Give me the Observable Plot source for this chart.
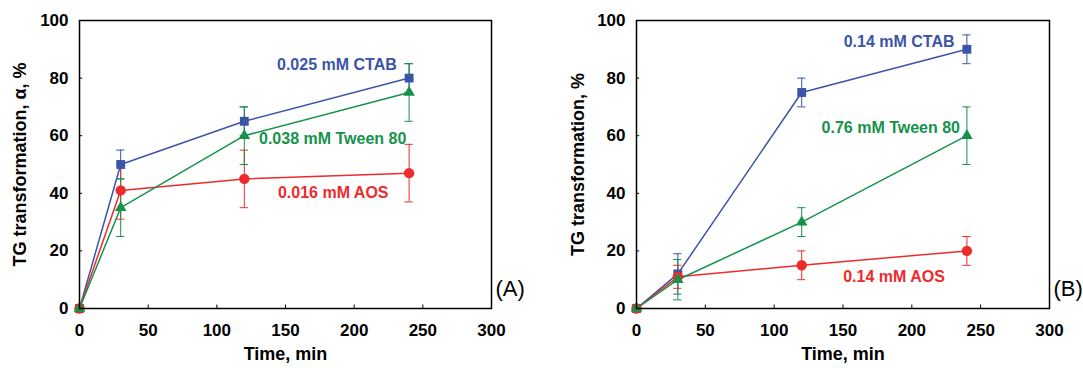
<!DOCTYPE html>
<html><head><meta charset="utf-8">
<script src="https://cdn.jsdelivr.net/npm/d3@7"></script>
<script src="https://cdn.jsdelivr.net/npm/@observablehq/plot@0.6"></script>
<style>
html,body{margin:0;padding:0;background:#fff;width:1083px;height:368px;overflow:hidden;}
#wrap{position:relative;width:1083px;height:368px;}
#a{position:absolute;left:0;top:0;}
#b{position:absolute;left:540px;top:0;}
</style></head>
<body><div id="wrap"><div id="a"></div><div id="b"></div></div>
<script>
const times = [0, 30, 120, 240];
const xTicks = [0, 50, 100, 150, 200, 250, 300];
const yTicks = [0, 20, 40, 60, 80, 100];

// Panel A
const ctabA = [0, 50, 65, 80];
const ctabErrA = [0, 5, 5, 5];
const aosA = [0, 41, 45, 47];
const aosErrA = [0, 10, 10, 10];
const tweenA = [0, 35, 60, 75];
const tweenErrA = [0, 10, 10, 10];
const namesA = ["0.025 mM CTAB", "0.016 mM AOS", "0.038 mM Tween 80"];

// Panel B
const ctabB = [0, 12, 75, 90];
const ctabErrB = [0, 7, 5, 5];
const aosB = [0, 11, 15, 20];
const aosErrB = [0, 4, 5, 5];
const tweenB = [0, 10, 30, 60];
const tweenErrB = [0, 7, 5, 10];
const namesB = ["0.14 mM CTAB", "0.14 mM AOS", "0.76 mM Tween 80"];

const colors = ["#3a55a7", "#ee2b2b", "#16924b"];
const symbols = ["square", "circle", "triangle"];
const radii = [5, 5.2, 4.3];
const FONT = "'Liberation Sans', Arial, sans-serif";

function rows(vals, errs, s) {
  return times.map((t, i) => ({t, v: vals[i], e: errs[i], s}));
}

function panel({series, names, labelPos, yTitle, tag, width, mL, mR, yTitleX}) {
  const marks = [];
  series.forEach((d, s) => {
    marks.push(Plot.line(d, {x: "t", y: "v", stroke: colors[s], strokeWidth: 1.5}));
  });
  series.forEach((d, s) => {
    const eb = d.filter(r => r.e > 0);
    marks.push(Plot.ruleX(eb, {x: "t", y1: r => r.v - r.e, y2: r => r.v + r.e, stroke: colors[s], strokeWidth: 1}));
    marks.push(Plot.ruleY(eb, {y: r => r.v + r.e, x1: r => r.t - 3, x2: r => r.t + 3, stroke: colors[s], strokeWidth: 1}));
    marks.push(Plot.ruleY(eb, {y: r => r.v - r.e, x1: r => r.t - 3, x2: r => r.t + 3, stroke: colors[s], strokeWidth: 1}));
  });
  series.forEach((d, s) => {
    marks.push(Plot.dot(d, {x: "t", y: "v", symbol: () => symbols[s], r: radii[s], fill: colors[s], stroke: "none"}));
  });
  names.forEach((n, s) => {
    marks.push(Plot.text([n], {x: labelPos[s][0], y: labelPos[s][1], text: d => d, fill: colors[s], fontSize: 16, fontWeight: "bold", textAnchor: "end"}));
  });
  marks.push(Plot.frame({stroke: "#000", strokeWidth: 1.5}));
  marks.push(Plot.ruleX(xTicks, {x: d => d, y1: 0, y2: 1.2, stroke: "#000", strokeWidth: 1}));
  marks.push(Plot.ruleY(yTicks, {y: d => d, x1: 0, x2: 2.3, stroke: "#000", strokeWidth: 1}));
  marks.push(Plot.axisX(xTicks, {tickSize: 0, tickPadding: 15, fontSize: 17, fontWeight: "bold", label: null}));
  marks.push(Plot.axisY(yTicks, {tickSize: 0, tickPadding: 11, fontSize: 17, fontWeight: "bold", label: null}));
  marks.push(Plot.text(["Time, min"], {frameAnchor: "bottom", dy: 51, text: d => d, fontSize: 18, fontWeight: "bold"}));
  marks.push(Plot.text([yTitle], {x: yTitleX, y: 50, rotate: -90, text: d => d, fontSize: 18, fontWeight: "bold"}));
  marks.push(Plot.text([tag], {frameAnchor: "bottom-right", dx: 4, dy: -13, text: d => d, fontSize: 22, textAnchor: "start"}));
  return Plot.plot({
    width, height: 368,
    marginLeft: mL, marginRight: mR, marginTop: 20, marginBottom: 60,
    x: {domain: [0, 300], axis: null},
    y: {domain: [0, 100], axis: null},
    style: {fontFamily: FONT, color: "#000", background: "transparent", overflow: "visible"},
    marks
  });
}

const seriesA = [rows(ctabA, ctabErrA, 0), rows(aosA, aosErrA, 1), rows(tweenA, tweenErrA, 2)];
const seriesB = [rows(ctabB, ctabErrB, 0), rows(aosB, aosErrB, 1), rows(tweenB, tweenErrB, 2)];

document.getElementById("a").appendChild(panel({
  series: seriesA, names: namesA,
  labelPos: [[231, 84.7], [225, 40], [238, 59]],
  yTitle: "TG transformation, α, %", tag: "(A)",
  width: 540, mL: 79, mR: 49, yTitleX: -43
}));
document.getElementById("b").appendChild(panel({
  series: seriesB, names: namesB,
  labelPos: [[231, 92.7], [224, 11.1], [235, 62.6]],
  yTitle: "TG transformation, %", tag: "(B)",
  width: 543, mL: 96, mR: 34, yTitleX: -42
}));
</script>
</body></html>
